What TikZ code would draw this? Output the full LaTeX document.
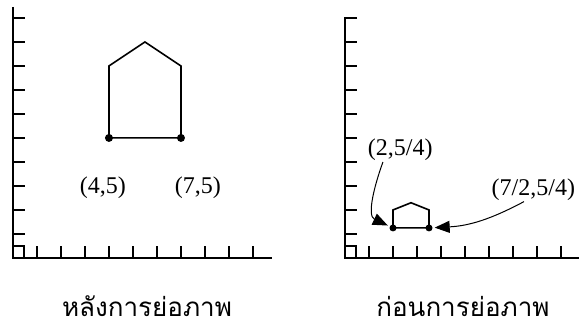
\documentclass[tikz,border=0pt]{standalone}
\usepackage{fontspec}
\setmainfont{Liberation Serif}
\newfontfamily\thaifont[Script=Thai]{Loma}
\usetikzlibrary{arrows.meta}

\begin{document}
\begin{tikzpicture}[x=24pt,y=24pt,
  axe/.style={line width=1.5pt},
  maison/.style={line width=1.6pt,line join=miter},
  pt/.style={circle,fill=black,inner sep=0pt,minimum size=8pt},
  coord/.style={font=\fontsize{24}{24}\selectfont,inner sep=1pt},
  legende/.style={font=\thaifont\fontsize{26}{28}\selectfont,inner sep=1pt},
  fleche/.style={line width=1pt,shorten >=2pt,-{Triangle[length=15pt,width=12pt]}}]
\useasboundingbox (0,0) rectangle (24.125,13.708);

% graphe de gauche : après réduction
\begin{scope}[shift={(0.54,2.96)}]
\draw[axe] (0,10.46) -- (0,0) -- (10.8,0);
\foreach \y in {1,...,10} {
    \draw[axe] (0,\y) -- (0.5,\y);
}
\foreach \x in {1,...,10} {
    \draw[axe] (\x,0) -- (\x,0.48);
}
\draw[axe] (0,0.5) -- (0.45,0.5) -- (0.45,0);
\node[pt] (g1) at (4,5) {};
\node[pt] (d1) at (7,5) {};
\draw[maison] (g1.center) -- (4,8) -- (5.5,9) -- (7,8) -- (d1.center) -- cycle;
\node[coord] (lg1) at (3.75,2.92) {(4,5)};
\node[coord] (ld1) at (7.7,2.92) {(7,5)};
\end{scope}

% graphe de droite : avant réduction
\begin{scope}[shift={(14.375,2.96)}]
\draw[axe] (0.5,10) -- (0,10) -- (0,0) -- (9.8,0);
\foreach \y in {1,...,9} {
    \draw[axe] (0,\y) -- (0.5,\y);
}
\foreach \x in {1,...,9} {
    \draw[axe] (\x,0) -- (\x,0.48);
}
\draw[axe] (0,0.5) -- (0.45,0.5) -- (0.45,0);
\node[pt,minimum size=7pt] (g2) at (2,1.25) {};
\node[pt,minimum size=7pt] (d2) at (3.5,1.25) {};
\draw[maison] (g2.center) -- (2,2) -- (2.75,2.3) -- (3.5,2) -- (d2.center) -- cycle;
\node[coord] (lg2) at (2.3,4.5) {(2,5/4)};
\node[coord] (ld2) at (7.85,2.85) {(7/2,5/4)};
\draw[fleche] (lg2.215) to[out=250,in=155] (g2);
\draw[fleche] (ld2.232) to[out=208,in=3] (d2);
\end{scope}

% légendes
\node[legende] (cap1) at (6.125,0.95) {หลังการย่อภาพ};
\node[legende] (cap2) at (19.29,0.95) {ก่อนการย่อภาพ};
\end{tikzpicture}
\end{document}
